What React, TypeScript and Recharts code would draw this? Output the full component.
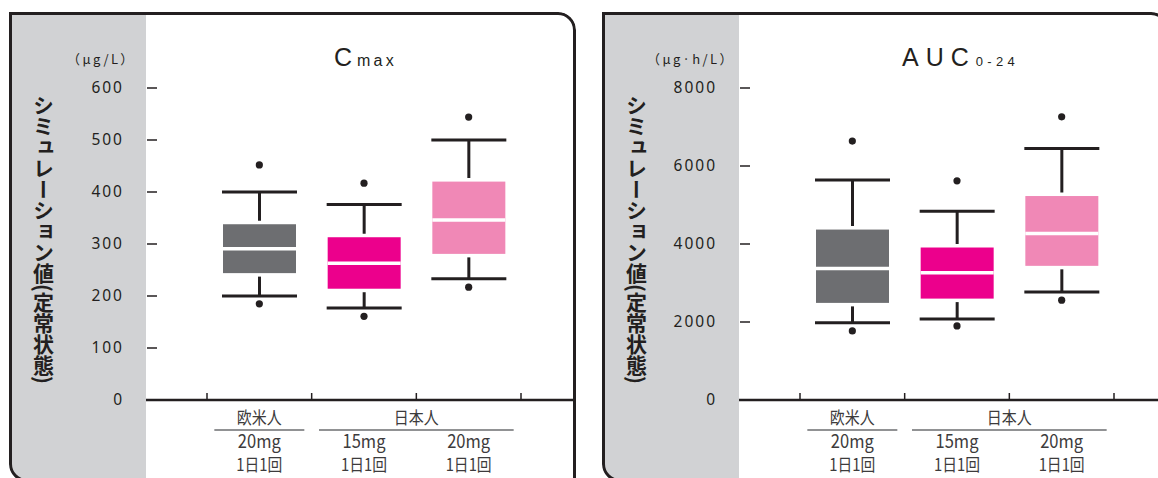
import React from "react";
import { ComposedChart, Bar, Scatter, XAxis, YAxis } from "recharts";

// categories and group labels
const categories = ["欧米人 20mg", "日本人 15mg", "日本人 20mg"];
const groups = ["欧米人", "日本人", "日本人"];
const doses = ["20mg", "15mg", "20mg"];
const regimens = ["1日1回", "1日1回", "1日1回"];

// Cmax (μg/L)
const cmaxOutlierHigh = [452, 417, 544];
const cmaxWhiskerHigh = [400, 376, 500];
const cmaxQ3 = [338, 313, 420];
const cmaxMedian = [291, 263, 346];
const cmaxQ1 = [244, 214, 281];
const cmaxWhiskerLow = [200, 177, 233];
const cmaxOutlierLow = [185, 161, 217];
const cmaxTicks = [0, 100, 200, 300, 400, 500, 600];

// AUC0-24 (μg·h/L)
const aucOutlierHigh = [6640, 5620, 7260];
const aucWhiskerHigh = [5640, 4840, 6450];
const aucQ3 = [4370, 3910, 5230];
const aucMedian = [3370, 3260, 4270];
const aucQ1 = [2490, 2600, 3440];
const aucWhiskerLow = [1980, 2080, 2770];
const aucOutlierLow = [1770, 1900, 2560];
const aucTicks = [0, 2000, 4000, 6000, 8000];

const INK = "#231f20";
const GREY_BG = "#d1d2d4";
const LABEL = "#3d3b3c";
const boxColors = ["#6d6e71", "#ec008c", "#f088b6"];

const PANEL_W = 567;
const PANEL_H = 470;
const PLOT_LEFT = 137;
const PLOT_TOP = 76;
const AXIS_H = 82;
const GAP = 3.5;

type Stats = {
  outHigh: number[];
  wHigh: number[];
  q3: number[];
  med: number[];
  q1: number[];
  wLow: number[];
  outLow: number[];
};

function buildRows(s: Stats) {
  return categories.map((name, i) => ({
    name,
    base: s.wLow[i],
    lowW: s.q1[i] - s.wLow[i],
    lowBox: s.med[i] - s.q1[i],
    highBox: s.q3[i] - s.med[i],
    highW: s.wHigh[i] - s.q3[i],
    outHigh: s.outHigh[i],
    outLow: s.outLow[i],
  }));
}

const cmaxRows = buildRows({
  outHigh: cmaxOutlierHigh,
  wHigh: cmaxWhiskerHigh,
  q3: cmaxQ3,
  med: cmaxMedian,
  q1: cmaxQ1,
  wLow: cmaxWhiskerLow,
  outLow: cmaxOutlierLow,
});

const aucRows = buildRows({
  outHigh: aucOutlierHigh,
  wHigh: aucWhiskerHigh,
  q3: aucQ3,
  med: aucMedian,
  q1: aucQ1,
  wLow: aucWhiskerLow,
  outLow: aucOutlierLow,
});

function WhiskerLow(p: any) {
  const { x, y, width, height } = p;
  const cx = x + width / 2;
  const bottom = y + height;
  return (
    <g>
      <line x1={x - 1} x2={x + width + 1} y1={bottom} y2={bottom} stroke={INK} strokeWidth={3} />
      <line x1={cx} x2={cx} y1={bottom} y2={y + GAP} stroke={INK} strokeWidth={3} />
    </g>
  );
}

function WhiskerHigh(p: any) {
  const { x, y, width, height } = p;
  const cx = x + width / 2;
  return (
    <g>
      <line x1={x - 1} x2={x + width + 1} y1={y} y2={y} stroke={INK} strokeWidth={3} />
      <line x1={cx} x2={cx} y1={y} y2={y + height - GAP} stroke={INK} strokeWidth={3} />
    </g>
  );
}

function BoxLow(p: any) {
  const { x, y, width, height, index } = p;
  return <rect x={x} y={y} width={width} height={height} fill={boxColors[index % boxColors.length]} />;
}

function BoxHigh(p: any) {
  const { x, y, width, height, index } = p;
  return (
    <g>
      <rect x={x} y={y} width={width} height={height} fill={boxColors[index % boxColors.length]} />
      <line x1={x} x2={x + width} y1={y + height} y2={y + height} stroke="#fff" strokeWidth={3.5} />
    </g>
  );
}

function Dot(p: any) {
  if (p.cx == null || p.cy == null) return <g />;
  return <circle cx={p.cx} cy={p.cy} r={3.6} fill={INK} />;
}

function ValueTick(props: any) {
  const { x, y, payload } = props;
  return (
    <g>
      <text
        x={x - 22}
        y={y}
        dy={5.4}
        textAnchor="end"
        fontFamily="'Noto Sans', sans-serif"
        fontSize={15.5}
        letterSpacing={2}
        fill={INK}
      >
        {payload.value}
      </text>
      <line x1={x + 1} x2={x + 11} y1={y} y2={y} stroke={INK} strokeWidth={1.3} />
    </g>
  );
}

function CategoryTick(props: any) {
  const { x, y, payload } = props;
  const i: number = payload?.index ?? props.index ?? 0;
  const half: number = payload?.offset || 52.3;
  const jp = "'Noto Sans CJK JP', sans-serif";
  let header = null;
  if (i === 0 || groups[i] !== groups[i - 1]) {
    let n = 1;
    while (groups[i + n] === groups[i]) n++;
    const span = (n - 1) * 2 * half;
    header = (
      <g>
        <text
          x={x + span / 2}
          y={y + 24}
          textAnchor="middle"
          fontFamily={jp}
          fontSize={17.5}
          textLength={45}
          lengthAdjust="spacingAndGlyphs"
          fill={LABEL}
        >
          {groups[i]}
        </text>
        <line x1={x - 45} x2={x + span + 45} y1={y + 30} y2={y + 30} stroke="#6d6e71" strokeWidth={1.4} />
      </g>
    );
  }
  return (
    <g>
      <line x1={x - half} x2={x - half} y1={y} y2={y - 7} stroke={INK} strokeWidth={1.5} />
      {i === categories.length - 1 && (
        <line x1={x + half} x2={x + half} y1={y} y2={y - 7} stroke={INK} strokeWidth={1.5} />
      )}
      {header}
      <text
        x={x}
        y={y + 48}
        textAnchor="middle"
        fontFamily={jp}
        fontSize={18.5}
        textLength={43}
        lengthAdjust="spacingAndGlyphs"
        fill={LABEL}
      >
        {doses[i]}
      </text>
      <text
        x={x}
        y={y + 71}
        textAnchor="middle"
        fontFamily={jp}
        fontSize={17.5}
        textLength={46}
        lengthAdjust="spacingAndGlyphs"
        fill={LABEL}
      >
        {regimens[i]}
      </text>
    </g>
  );
}

function Panel({
  left,
  rows,
  domain,
  ticks,
  unit,
  unitX,
  title,
  titleX,
}: {
  left: number;
  rows: any[];
  domain: [number, number];
  ticks: number[];
  unit: string;
  unitX: number;
  title: React.ReactNode;
  titleX: number;
}) {
  return (
    <div
      style={{
        position: "absolute",
        left,
        top: 12,
        width: PANEL_W,
        height: PANEL_H,
        borderRadius: "0 18px 0 18px",
        overflow: "hidden",
        background: "#fff",
      }}
    >
      <div
        style={{
          position: "absolute",
          left: 0,
          top: 0,
          width: PLOT_LEFT,
          height: PANEL_H,
          background: GREY_BG,
        }}
      />
      <div
        style={{
          position: "absolute",
          left: 23.5,
          top: 83,
          writingMode: "vertical-rl",
          fontFamily: "'Noto Sans CJK JP', sans-serif",
          fontWeight: 700,
          fontSize: 21,
          lineHeight: 1,
          color: INK,
        }}
      >
        シミュレーション値(定常状態)
      </div>
      <div style={{ position: "absolute", left: 0, top: 0 }}>
        <ComposedChart
          width={PANEL_W}
          height={PANEL_H}
          data={rows}
          margin={{ top: PLOT_TOP, right: 1, bottom: 0, left: 0 }}
          barSize={73}
        >
          <XAxis
            dataKey="name"
            type="category"
            interval={0}
            height={AXIS_H}
            padding={{ left: 61, right: 54 }}
            axisLine={{ stroke: INK, strokeWidth: 2.5 }}
            tickLine={false}
            tickSize={0}
            tickMargin={0}
            tick={(p: any) => <CategoryTick {...p} />}
          />
          <YAxis
            type="number"
            width={PLOT_LEFT}
            domain={domain}
            ticks={ticks}
            interval={0}
            axisLine={false}
            tickLine={false}
            tickSize={0}
            tickMargin={0}
            tick={(p: any) => <ValueTick {...p} />}
          />
          <Bar dataKey="base" stackId="box" fill="none" isAnimationActive={false} />
          <Bar dataKey="lowW" stackId="box" shape={WhiskerLow} isAnimationActive={false} />
          <Bar dataKey="lowBox" stackId="box" shape={BoxLow} isAnimationActive={false} />
          <Bar dataKey="highBox" stackId="box" shape={BoxHigh} isAnimationActive={false} />
          <Bar dataKey="highW" stackId="box" shape={WhiskerHigh} isAnimationActive={false} />
          <Scatter dataKey="outHigh" shape={Dot} isAnimationActive={false} />
          <Scatter dataKey="outLow" shape={Dot} isAnimationActive={false} />
        </ComposedChart>
      </div>
      <svg
        width={PANEL_W}
        height={PANEL_H}
        style={{ position: "absolute", left: 0, top: 0, pointerEvents: "none" }}
      >
        <text
          x={unitX}
          y={52}
          fontFamily="'Noto Sans CJK JP', sans-serif"
          fontSize={13}
          letterSpacing={2.4}
          fill={INK}
        >
          {unit}
        </text>
        <text x={titleX} y={54} fontFamily="'Liberation Sans', Arial, sans-serif" fill={INK}>
          {title}
        </text>
      </svg>
      <div
        style={{
          position: "absolute",
          left: 0,
          top: 0,
          width: PANEL_W,
          height: PANEL_H,
          boxSizing: "border-box",
          border: `3px solid ${INK}`,
          borderRadius: "0 18px 0 18px",
        }}
      />
    </div>
  );
}

export default function App() {
  return (
    <div
      style={{
        position: "fixed",
        left: 0,
        top: 0,
        width: 1158,
        height: 478,
        overflow: "hidden",
        background: "#fff",
      }}
    >
      <Panel
        left={9}
        rows={cmaxRows}
        domain={[0, 600]}
        ticks={cmaxTicks}
        unit="（μg/L）"
        unitX={58}
        titleX={325}
        title={
          <>
            <tspan fontSize={25} letterSpacing={5}>C</tspan>
            <tspan fontSize={16} letterSpacing={3.2}>max</tspan>
          </>
        }
      />
      <Panel
        left={602}
        rows={aucRows}
        domain={[0, 8000]}
        ticks={aucTicks}
        unit="（μg·h/L）"
        unitX={45}
        titleX={300}
        title={
          <>
            <tspan fontSize={25} letterSpacing={7}>AUC</tspan>
            <tspan fontSize={13} letterSpacing={4.3}>0-24</tspan>
          </>
        }
      />
    </div>
  );
}
